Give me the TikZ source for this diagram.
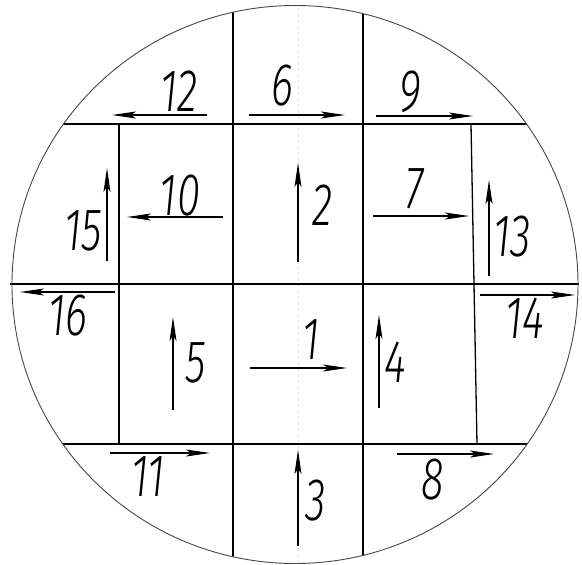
\documentclass[tikz,border=0pt]{standalone}
\usepackage{fontspec}
\usepackage{xcolor}
\usepackage{tikz}
\usetikzlibrary{arrows.meta}
\newfontfamily\gostfont{Fira Sans Light}[FakeStretch=0.7]
\definecolor{rim}{RGB}{70,70,70}
\definecolor{axisgray}{RGB}{225,225,225}
\tikzset{
  cut/.style={line width=1.3pt},
  mv/.style={line width=1.2pt, -{Stealth[length=24pt,width=7pt,inset=5pt]}},
  num/.style={font=\gostfont\itshape\fontsize{60}{60}\selectfont, inner sep=0pt},
}

\begin{document}
\begin{tikzpicture}[x=1pt, y=-1pt]
        \useasboundingbox (0,0) rectangle (582,565);
        \draw[axisgray, dashed, line width=0.6pt] (298,8) -- (298,562);
        \begin{scope}
          \clip (295,284.5) ellipse [x radius=283pt, y radius=279pt];
          \draw[cut] (233,0) -- (233,565);
          \draw[cut] (363,0) -- (363,565);
          \draw[cut] (0,124) -- (582,124);
          \draw[cut] (0,444) -- (582,444);
        \end{scope}
        \draw[cut] (10,284) -- (579,284);
        \draw[cut] (119,124) -- (119,444);
        \draw[cut] (471,124) -- (477,444);
        \draw[rim, line width=0.9pt] (295,284.5) ellipse [x radius=283pt, y radius=279pt];
        % moves
        \draw[mv] (250,368) -- (347,368);
        \draw[mv] (298,262) -- (298,163);
        \draw[mv] (298,546) -- (298,450);
        \draw[mv] (379,408) -- (379,315);
        \draw[mv] (173,410) -- (173,317);
        \draw[mv] (249,115) -- (345,115);
        \draw[mv] (373,216) -- (469,216);
        \draw[mv] (397,454) -- (494,454);
        \draw[mv] (376,116) -- (473,116);
        \draw[mv] (223,217) -- (127,217);
        \draw[mv] (110,453) -- (210,453);
        \draw[mv] (207,115) -- (112,115);
        \draw[mv] (489,276) -- (489,180);
        \draw[mv] (480,295) -- (575,295);
        \draw[mv] (107,261) -- (107,168);
        \draw[mv] (115,292) -- (20,292);
        % numbers
        \node[num] (n1) at (311,340) {1};
        \node[num] (n2) at (322,205) {2};
        \node[num] (n3) at (316,501) {3};
        \node[num] (n4) at (395,362) {4};
        \node[num] (n5) at (196,363) {5};
        \node[num] (n6) at (282,86) {6};
        \node[num] (n7) at (415,189) {7};
        \node[num] (n8) at (433,480) {8};
        \node[num] (n9) at (410,92) {9};
        \node[num] (n10) at (180,196) {10};
        \node[num] (n11) at (148,477) {11};
        \node[num] (n12) at (179,91) {12};
        \node[num] (n13) at (512,237) {13};
        \node[num] (n14) at (525,318) {14};
        \node[num] (n15) at (83,231) {15};
        \node[num] (n16) at (68,316) {16};
      \end{tikzpicture}
\end{document}
